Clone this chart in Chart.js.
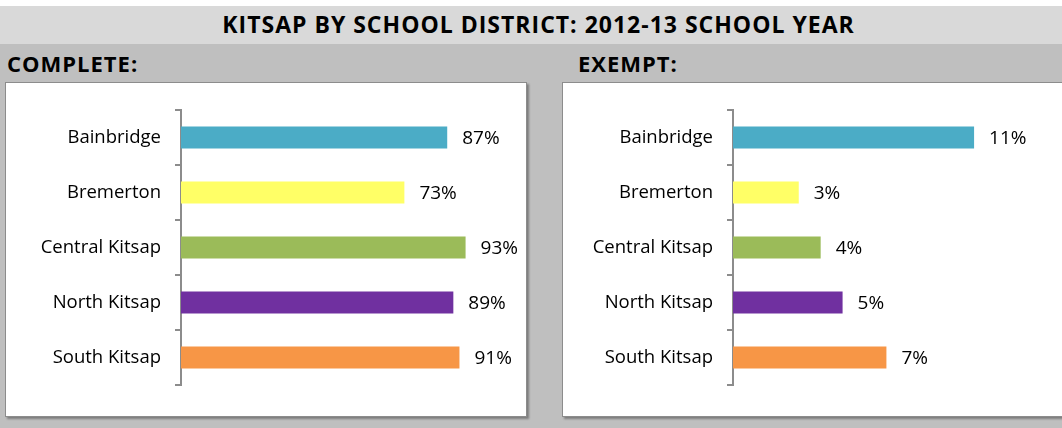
<!DOCTYPE html>
<html>
<head>
<meta charset="utf-8">
<script src="https://cdn.jsdelivr.net/npm/chart.js@4"></script>
<style>
  html, body { margin: 0; padding: 0; }
  body {
    width: 1062px; height: 428px; overflow: hidden; position: relative;
    background: #bfbfbf; font-family: "Open Sans", Lato, sans-serif;
  }
  #top { position: absolute; left: 0; top: 0; width: 1062px; height: 6px; background: #fff; }
  #title {
    position: absolute; left: 0; top: 6px; width: 1077px; height: 38px;
    background: #d9d9d9; text-align: center; line-height: 36px;
    font-weight: bold; font-size: 23px; letter-spacing: 1px; color: #000;
  }
  .section {
    position: absolute; top: 48px; line-height: 30px;
    font-weight: bold; font-size: 22px; letter-spacing: 1px; color: #000;
  }
  .panel {
    position: absolute; top: 82px; width: 520px; height: 333px;
    background: #fff; border: 1px solid #8c8c8c;
    box-shadow: 2px 2px 2px rgba(0, 0, 0, 0.35);
  }
  .panel canvas { display: block; }
</style>
</head>
<body>
<div id="top"></div>
<div id="title">KITSAP BY SCHOOL DISTRICT: 2012-13 SCHOOL YEAR</div>
<div class="section" style="left:7px">COMPLETE:</div>
<div class="section" style="left:578px">EXEMPT:</div>
<div class="panel" style="left:5px"><canvas id="completeChart" width="520" height="333"></canvas></div>
<div class="panel" style="left:562px"><canvas id="exemptChart" width="520" height="333"></canvas></div>

<script>
// districts, same order for both charts
const districts = ["Bainbridge", "Bremerton", "Central Kitsap", "North Kitsap", "South Kitsap"];
const districtColors = ["#4bacc6", "#ffff66", "#9bbb59", "#7030a0", "#f79646"];

// share of students, as fractions
const completeValues = [0.87, 0.73, 0.93, 0.89, 0.91];
const exemptValues = [0.11, 0.03, 0.04, 0.05, 0.07];

const FONT = "'Open Sans', Lato, sans-serif";

// percentage text drawn after each bar
const barLabels = {
    id: "barLabels",
    afterDatasetsDraw(chart) {
        const ctx = chart.ctx;
        const meta = chart.getDatasetMeta(0);
        const data = chart.data.datasets[0].data;
        ctx.save();
        ctx.font = "19px " + FONT;
        ctx.fillStyle = "#000";
        ctx.textAlign = "left";
        ctx.textBaseline = "middle";
        meta.data.forEach((bar, i) => {
            ctx.fillText(Math.round(data[i] * 100) + "%", bar.x + 15, bar.y + 1);
        });
        ctx.restore();
    },
};

function makeChart(id, values, xMax, axisWidth, padRight) {
    const el = document.getElementById(id);
    if (!el) return;

    new Chart(el, {
        type: "bar",
        data: {
            labels: districts,
            datasets: [
                {
                    data: values,
                    backgroundColor: districtColors,
                    barPercentage: 0.4,
                    categoryPercentage: 1,
                },
            ],
        },
        options: {
            indexAxis: "y",
            responsive: false,
            animation: false,
            layout: {
                padding: { left: 0, top: 27, bottom: 31, right: padRight },
            },
            plugins: {
                legend: { display: false },
                tooltip: { enabled: false },
            },
            scales: {
                x: { display: false, min: 0, max: xMax },
                y: {
                    afterFit(scale) {
                        scale.width = axisWidth;
                    },
                    border: { display: true, color: "#8c8c8c", width: 2 },
                    grid: {
                        offset: true,
                        drawOnChartArea: false,
                        drawTicks: true,
                        tickLength: 6,
                        color: "#8c8c8c",
                        lineWidth: 2,
                    },
                    ticks: {
                        padding: 14,
                        color: "#000",
                        font: { family: FONT, size: 18.5 },
                    },
                },
            },
        },
        plugins: [barLabels],
    });
}

document.addEventListener("DOMContentLoaded", function () {
    if (typeof Chart === "undefined") {
        console.error("Chart.js is not loaded");
        return;
    }
    makeChart("completeChart", completeValues, 1, 175, 39);
    makeChart("exemptChart", exemptValues, 0.12, 170, 87);
});
</script>
</body>
</html>
